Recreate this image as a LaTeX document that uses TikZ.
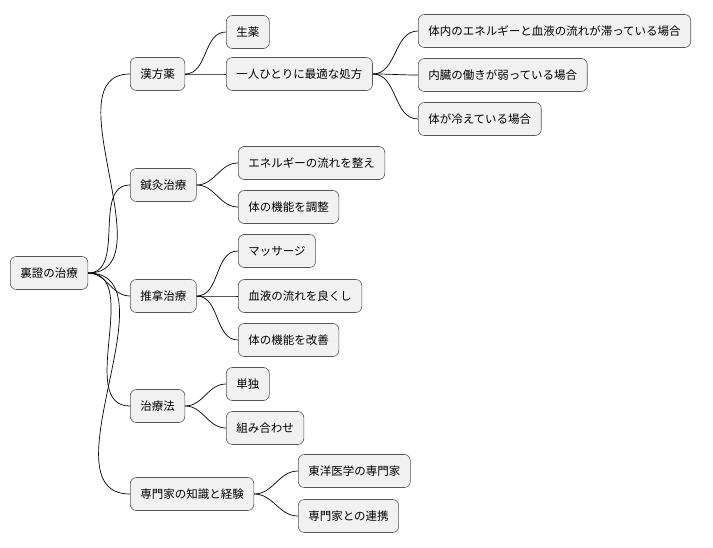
\documentclass[tikz,border=0pt]{standalone}
\usepackage{fontspec}
\setmainfont{Noto Sans CJK JP}
\definecolor{boxfill}{HTML}{F1F1F1}
\definecolor{boxline}{HTML}{555555}
\begin{document}
\begin{tikzpicture}[x=1pt,y=-1pt,
  topic/.style={draw=boxline,fill=boxfill,rounded corners=6pt,line width=0.6pt,
    anchor=west,minimum height=33pt,inner xsep=10pt,font=\fontsize{11.5}{13}\selectfont},
  link/.style={line width=0.7pt,black}]
\useasboundingbox (0,0) rectangle (713,548);

% root
\node[topic] (root) at (10,273) {裏證の治療};

% first level
\node[topic] (kampo) at (130,74) {漢方薬};
\node[topic] (shinkyu) at (130,185) {鍼灸治療};
\node[topic] (suina) at (130,296) {推拿治療};
\node[topic] (hou) at (130,406) {治療法};
\node[topic] (senmon) at (130,494) {専門家の知識と経験};

% second level
\node[topic] (shoyaku) at (226,32) {生薬};
\node[topic] (shoho) at (226,74) {一人ひとりに最適な処方};
\node[topic] (energy) at (238,163) {エネルギーの流れを整え};
\node[topic] (chosei) at (238,207) {体の機能を調整};
\node[topic] (massage) at (238,251) {マッサージ};
\node[topic] (ketsueki) at (238,296) {血液の流れを良くし};
\node[topic] (kaizen) at (238,340) {体の機能を改善};
\node[topic] (tandoku) at (226,384) {単独};
\node[topic] (kumi) at (226,428) {組み合わせ};
\node[topic] (toyo) at (298,471) {東洋医学の専門家};
\node[topic] (renkei) at (298,516) {専門家との連携};

% third level
\node[topic] (taitai) at (418,31) {体内のエネルギーと血液の流れが滞っている場合};
\node[topic] (naizo) at (418,75) {内臓の働きが弱っている場合};
\node[topic] (hie) at (418,119) {体が冷えている場合};

% connectors
\foreach \a/\b in {root/kampo,root/shinkyu,root/suina,root/hou,root/senmon,
  kampo/shoyaku,kampo/shoho,shinkyu/energy,shinkyu/chosei,
  suina/massage,suina/ketsueki,suina/kaizen,hou/tandoku,hou/kumi,
  senmon/toyo,senmon/renkei,shoho/taitai,shoho/naizo,shoho/hie}
  \draw[link] (\a.east) to[out=0,in=180] (\b.west);
\end{tikzpicture}
\end{document}
